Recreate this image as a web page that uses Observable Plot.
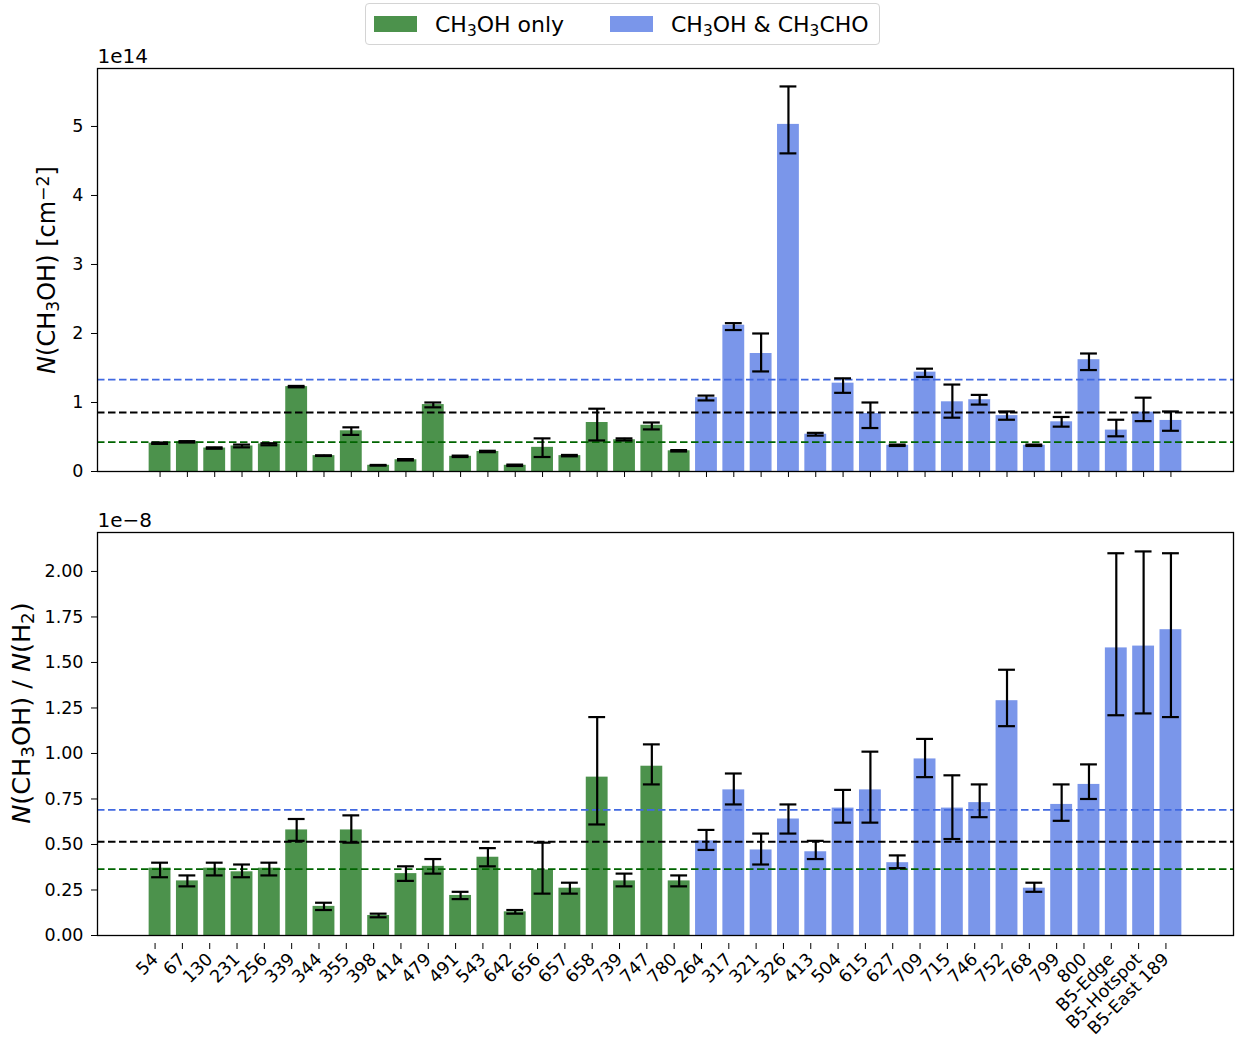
<!DOCTYPE html>
<html>
<head>
<meta charset="utf-8">
<script src="https://cdn.jsdelivr.net/npm/d3@7"></script>
<script src="https://cdn.jsdelivr.net/npm/@observablehq/plot@0.6"></script>
<style>
  body { margin: 0; background: #fff; font-family: "DejaVu Sans", sans-serif; }
  #wrap { position: relative; width: 1239px; height: 1041px; }
  #legend {
    position: absolute; left: 365px; top: 3px; width: 515px; height: 42px;
    box-sizing: border-box; border: 1.5px solid #d4d4d4; border-radius: 4px;
    font: 22px "DejaVu Sans", sans-serif; color: #000;
  }
  .item { position: absolute; top: 0; height: 100%; display: flex; align-items: center; }
  .swatch { width: 43px; height: 16px; margin-right: 18px; }
  #legend sub { font-size: 70%; vertical-align: -0.25em; line-height: 0; }
  .panel { position: absolute; left: 0; }
</style>
</head>
<body>
<div id="wrap">
  <div id="legend"></div>
  <div id="top" class="panel" style="top:48px"></div>
  <div id="bottom" class="panel" style="top:497px"></div>
</div>
<script>
// Sources where only methanol is detected, then sources with methanol and acetaldehyde
const sourcesOnly = ["54","67","130","231","256","339","344","355","398","414","479","491","543","642","656","657","658","739","747","780"];
const sourcesBoth = ["264","317","321","326","413","504","615","627","709","715","746","752","768","799","800","B5-Edge","B5-Hotspot","B5-East 189"];

// N(CH3OH) in units of 1e14 cm^-2, with lower / upper ends of the error bars
const colN     = [0.41,0.43,0.34,0.37,0.40,1.23,0.23,0.59,0.09,0.17,0.97,0.22,0.29,0.09,0.35,0.23,0.71,0.46,0.67,0.30,
                  1.07,2.12,1.71,5.03,0.54,1.28,0.84,0.38,1.44,1.01,1.04,0.81,0.38,0.72,1.62,0.60,0.86,0.74];
const colNLow  = [0.40,0.42,0.33,0.35,0.38,1.22,0.225,0.53,0.085,0.16,0.93,0.21,0.28,0.08,0.21,0.22,0.45,0.45,0.61,0.29,
                  1.03,2.05,1.45,4.61,0.52,1.14,0.63,0.37,1.37,0.78,0.97,0.75,0.37,0.65,1.47,0.51,0.73,0.59];
const colNHigh = [0.42,0.44,0.35,0.39,0.41,1.24,0.235,0.64,0.095,0.18,1.00,0.23,0.30,0.10,0.48,0.24,0.91,0.48,0.71,0.31,
                  1.10,2.15,2.00,5.58,0.56,1.35,1.00,0.39,1.49,1.26,1.11,0.87,0.39,0.79,1.71,0.75,1.07,0.87];

// N(CH3OH)/N(H2) in units of 1e-8, with lower / upper ends of the error bars
const abund     = [0.37,0.30,0.37,0.35,0.37,0.58,0.16,0.58,0.11,0.34,0.38,0.22,0.43,0.13,0.36,0.26,0.87,0.30,0.93,0.30,
                   0.52,0.80,0.47,0.64,0.46,0.70,0.80,0.40,0.97,0.70,0.73,1.29,0.26,0.72,0.83,1.58,1.59,1.68];
const abundLow  = [0.32,0.27,0.33,0.32,0.33,0.52,0.14,0.51,0.10,0.30,0.34,0.20,0.38,0.12,0.23,0.23,0.61,0.27,0.83,0.27,
                   0.47,0.72,0.39,0.56,0.42,0.62,0.62,0.37,0.87,0.53,0.65,1.15,0.24,0.63,0.75,1.21,1.22,1.20];
const abundHigh = [0.40,0.33,0.40,0.39,0.40,0.64,0.18,0.66,0.12,0.38,0.42,0.24,0.48,0.14,0.51,0.29,1.20,0.34,1.05,0.33,
                   0.58,0.89,0.56,0.72,0.52,0.80,1.01,0.44,1.08,0.88,0.83,1.46,0.29,0.83,0.94,2.10,2.11,2.10];

// Reference levels (dashed): methanol-only, both species, all sources
const refColors = ["darkgreen", "royalblue", "black"];
const refN      = [0.425, 1.33, 0.855];
const refAbund  = [0.365, 0.69, 0.515];

// Group colours and legend labels
const groupColors = ["darkgreen", "royalblue"];
const groupLabels = ["CH<sub>3</sub>OH only", "CH<sub>3</sub>OH &amp; CH<sub>3</sub>CHO"];

const yTicksN = [0, 1, 2, 3, 4, 5];
const yTicksA = [0, 0.25, 0.5, 0.75, 1.0, 1.25, 1.5, 1.75, 2.0];

const names = [...sourcesOnly, ...sourcesBoth];
const rows = names.map((name, i) => ({
  name, group: i < sourcesOnly.length ? 0 : 1,
  n: colN[i], nLo: colNLow[i], nHi: colNHigh[i],
  a: abund[i], aLo: abundLow[i], aHi: abundHigh[i]
}));

const FONT = "DejaVu Sans";
const TICK_FONT = 17.5;
const xScale = {domain: names, type: "band", paddingInner: 0.2, paddingOuter: 1.89, round: false};

function panel({y, lo, hi, refs, yDomain, yTicks, yFormat, exponent, height, marginTop, marginBottom, xLabels}) {
  const marks = [];
  groupColors.forEach((c, g) => {
    marks.push(Plot.barY(rows.filter(d => d.group === g), {x: "name", y, fill: c, fillOpacity: 0.7}));
  });
  refs.forEach((v, k) => {
    marks.push(Plot.ruleY([v], {stroke: refColors[k], strokeWidth: 1.8, strokeDasharray: "7.5,3.5"}));
  });
  marks.push(Plot.ruleX(rows, {x: "name", y1: lo, y2: hi, stroke: "black", strokeWidth: 2.2}));
  marks.push(Plot.tickY(rows, {x: "name", y: lo, stroke: "black", strokeWidth: 2.2, insetLeft: 2.5, insetRight: 2.5}));
  marks.push(Plot.tickY(rows, {x: "name", y: hi, stroke: "black", strokeWidth: 2.2, insetLeft: 2.5, insetRight: 2.5}));
  marks.push(Plot.axisY({ticks: yTicks, tickFormat: yFormat, label: null, tickSize: 6, tickPadding: 8, fontSize: TICK_FONT}));
  marks.push(xLabels
    ? Plot.axisX({label: null, tickSize: 6, tickPadding: 7, tickRotate: -45, dx: -5, dy: 8, fontSize: TICK_FONT})
    : Plot.axisX({label: null, tickSize: 6, tickFormat: () => ""}));
  marks.push(Plot.frame({stroke: "black", strokeWidth: 1.3}));
  marks.push(Plot.text([exponent], {frameAnchor: "top-left", textAnchor: "start", lineAnchor: "bottom", dy: -6, fontSize: 20}));
  return Plot.plot({
    width: 1239, height, marginLeft: 97, marginRight: 6, marginTop, marginBottom,
    style: {fontFamily: FONT, fontSize: TICK_FONT + "px", color: "black", background: "transparent", overflow: "visible"},
    x: xScale,
    y: {domain: yDomain},
    marks
  });
}

function yLabel(svg, parts, cx, cy, size) {
  const t = d3.select(svg).append("text")
    .attr("transform", `translate(${cx},${cy}) rotate(-90)`)
    .attr("text-anchor", "middle")
    .attr("dy", "0.35em")
    .attr("fill", "black")
    .style("font-family", FONT)
    .style("font-size", size + "px");
  for (const [s, kind] of parts) {
    const ts = t.append("tspan").text(s);
    if (kind === "i") ts.style("font-style", "italic");
    if (kind === "sub") ts.attr("baseline-shift", "-22%").style("font-size", (size * 0.72) + "px");
    if (kind === "sup") ts.attr("baseline-shift", "38%").style("font-size", (size * 0.72) + "px");
  }
}

const topSvg = panel({
  y: "n", lo: "nLo", hi: "nHi", refs: refN, yDomain: [0, 5.84], yTicks: yTicksN,
  yFormat: d3.format("d"), exponent: "1e14", height: 443, marginTop: 20, marginBottom: 20, xLabels: false
});
yLabel(topSvg, [["N", "i"], ["(CH", ""], ["3", "sub"], ["OH) [cm", ""], ["\u22122", "sup"], ["]", ""]], 47, 222, 24);
document.getElementById("top").appendChild(topSvg);

const bottomSvg = panel({
  y: "a", lo: "aLo", hi: "aHi", refs: refAbund, yDomain: [0, 2.214], yTicks: yTicksA,
  yFormat: d3.format(".2f"), exponent: "1e\u22128", height: 544, marginTop: 35, marginBottom: 106, xLabels: true
});
yLabel(bottomSvg, [["N", "i"], ["(CH", ""], ["3", "sub"], ["OH) / ", ""], ["N", "i"], ["(H", ""], ["2", "sub"], [")", ""]], 21, 216, 25.5);
document.getElementById("bottom").appendChild(bottomSvg);

// Legend
const legend = document.getElementById("legend");
const itemLeft = [8, 244];
groupColors.forEach((c, g) => {
  const item = document.createElement("div");
  item.className = "item";
  item.style.left = itemLeft[g] + "px";
  const sw = document.createElement("span");
  sw.className = "swatch";
  sw.style.background = c;
  sw.style.opacity = 0.7;
  const lab = document.createElement("span");
  lab.innerHTML = groupLabels[g];
  item.appendChild(sw);
  item.appendChild(lab);
  legend.appendChild(item);
});
</script>
</body>
</html>
